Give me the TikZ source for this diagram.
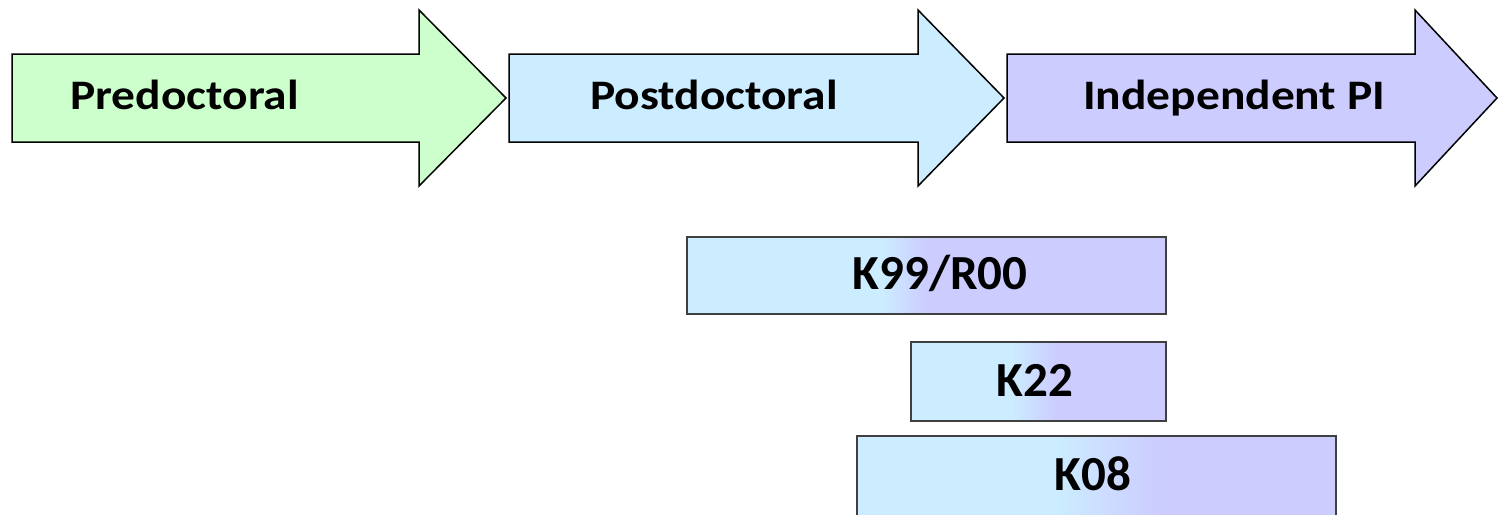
\documentclass[tikz,border=0pt]{standalone}
\usepackage{fontspec}
\usepackage{graphicx}
\setmainfont{Carlito}
\definecolor{pgreen}{HTML}{CCFFCC}
\definecolor{pblue}{HTML}{CCECFF}
\definecolor{plav}{HTML}{CCCCFF}
\definecolor{kborder}{HTML}{404040}
\pgfdeclarehorizontalshading{kA}{100bp}{color(0bp)=(pblue); color(45.5bp)=(pblue); color(50bp)=(plav); color(100bp)=(plav)}
\pgfdeclarehorizontalshading{kB}{100bp}{color(0bp)=(pblue); color(45bp)=(pblue); color(53.5bp)=(plav); color(100bp)=(plav)}
\pgfdeclarehorizontalshading{kC}{100bp}{color(0bp)=(pblue); color(46bp)=(pblue); color(56.5bp)=(plav); color(100bp)=(plav)}
\tikzset{
  stagearrow/.style={draw=black, line width=1.5pt, line join=miter},
  toplabel/.style={font=\bfseries\fontsize{42}{44}\selectfont, inner sep=0pt, anchor=base west},
  kbox/.style={draw=kborder, line width=1.5pt, inner sep=0pt, anchor=north west},
  klabel/.style={font=\bfseries\fontsize{49}{52}\selectfont, inner sep=0pt, anchor=base}
}
\begin{document}
\begin{tikzpicture}[x=1pt,y=-1pt]
\useasboundingbox (0,0) rectangle (1499,514);
% stage arrows
\path[stagearrow, fill=pgreen] (12,54) -- (419,54) -- (419,10) -- (506,98) -- (419,186) -- (419,142) -- (12,142) -- cycle;
\path[stagearrow, fill=pblue] (509,54) -- (918,54) -- (918,10) -- (1004,98) -- (918,186) -- (918,142) -- (509,142) -- cycle;
\path[stagearrow, fill=plav] (1007,54) -- (1415,54) -- (1415,10) -- (1497,98) -- (1415,186) -- (1415,142) -- (1007,142) -- cycle;
\node[toplabel] (pre) at (70,109.5) {\scalebox{1.13}[1]{Predoctoral}};
\node[toplabel] (post) at (590,109.5) {\scalebox{1.13}[1]{Postdoctoral}};
\node[toplabel] (indep) at (1083,109.5) {\scalebox{1.13}[1]{Independent PI}};
% award boxes
\node[kbox, shading=kA, minimum width=479pt, minimum height=77pt] (k99box) at (686,236) {};
\node[kbox, shading=kB, minimum width=255pt, minimum height=79pt] (k22box) at (910,341) {};
\node[kbox, shading=kC, minimum width=479pt, minimum height=80pt] (k08box) at (856,435) {};
\node[klabel] (k99) at (940,289) {K99/R00};
\node[klabel] (k22) at (1035,396) {K22};
\node[klabel] (k08) at (1093,490) {K08};
\end{tikzpicture}
\end{document}
